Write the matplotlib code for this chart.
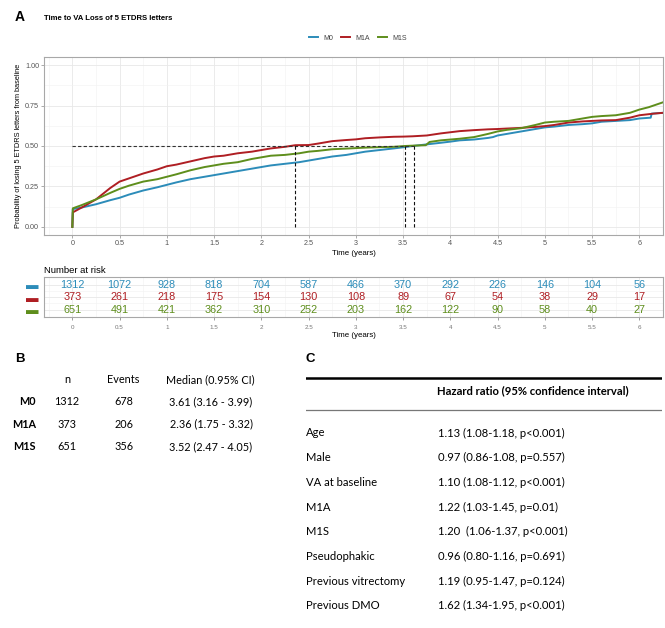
import matplotlib.pyplot as plt
import numpy as np

groups = ['M0', 'M1A', 'M1S']
colors = ['#2C8CB9', '#AF1E23', '#5E8E1C']

t_m0 = [0, 0.005, 0.1, 0.25, 0.4, 0.5, 0.6, 0.75, 0.9, 1.0, 1.1, 1.25, 1.4, 1.5, 1.6, 1.75, 1.9, 2.0,
        2.1, 2.25, 2.4, 2.5, 2.6, 2.75, 2.9, 3.0, 3.1, 3.25, 3.4, 3.5, 3.6, 3.75, 3.9, 4.0, 4.1, 4.25,
        4.4, 4.45, 4.5, 4.6, 4.75, 4.9, 5.0, 5.1, 5.25, 5.4, 5.5, 5.6, 5.75, 5.9, 6.0, 6.12, 6.13, 6.25]
p_m0 = [0, 0.11, 0.12, 0.14, 0.165, 0.18, 0.2, 0.225, 0.245, 0.26, 0.275, 0.295, 0.31, 0.32, 0.33,
        0.345, 0.36, 0.37, 0.38, 0.39, 0.4, 0.41, 0.42, 0.435, 0.445, 0.455, 0.465, 0.475, 0.485,
        0.492, 0.5, 0.51, 0.52, 0.527, 0.535, 0.54, 0.55, 0.555, 0.565, 0.575, 0.59, 0.605, 0.615,
        0.62, 0.63, 0.635, 0.64, 0.65, 0.655, 0.66, 0.67, 0.675, 0.7, 0.705]

t_m1a = [0, 0.005, 0.1, 0.25, 0.4, 0.5, 0.6, 0.75, 0.9, 1.0, 1.1, 1.25, 1.4, 1.5, 1.6, 1.75, 1.9, 2.0,
         2.1, 2.25, 2.36, 2.5, 2.6, 2.75, 2.9, 3.0, 3.1, 3.25, 3.4, 3.5, 3.6, 3.75, 3.9, 4.0, 4.1,
         4.25, 4.4, 4.5, 4.6, 4.75, 4.9, 5.0, 5.1, 5.25, 5.4, 5.5, 5.6, 5.75, 5.9, 6.0, 6.15, 6.25]
p_m1a = [0, 0.09, 0.12, 0.17, 0.24, 0.28, 0.3, 0.33, 0.355, 0.375, 0.385, 0.405, 0.425, 0.435,
         0.44, 0.455, 0.465, 0.475, 0.485, 0.495, 0.505, 0.506, 0.515, 0.53, 0.537, 0.541, 0.548,
         0.553, 0.557, 0.558, 0.56, 0.565, 0.578, 0.585, 0.592, 0.598, 0.603, 0.605, 0.608, 0.612,
         0.618, 0.623, 0.63, 0.645, 0.652, 0.655, 0.658, 0.66, 0.675, 0.69, 0.7, 0.705]

t_m1s = [0, 0.005, 0.1, 0.25, 0.4, 0.5, 0.6, 0.75, 0.9, 1.0, 1.1, 1.25, 1.4, 1.5, 1.6, 1.75, 1.9,
         2.0, 2.1, 2.25, 2.4, 2.5, 2.6, 2.75, 2.9, 3.0, 3.1, 3.25, 3.4, 3.52, 3.6, 3.74, 3.78, 3.9,
         4.0, 4.1, 4.25, 4.4, 4.5, 4.6, 4.75, 4.9, 5.0, 5.1, 5.25, 5.4, 5.5, 5.6, 5.75, 5.9, 6.0,
         6.1, 6.2, 6.25]
p_m1s = [0, 0.115, 0.135, 0.17, 0.21, 0.235, 0.255, 0.28, 0.295, 0.31, 0.325, 0.35, 0.37, 0.38,
         0.39, 0.4, 0.42, 0.43, 0.44, 0.445, 0.455, 0.465, 0.47, 0.48, 0.484, 0.487, 0.49, 0.493,
         0.495, 0.5, 0.502, 0.505, 0.525, 0.535, 0.54, 0.545, 0.555, 0.575, 0.59, 0.6, 0.61, 0.63,
         0.645, 0.65, 0.655, 0.67, 0.68, 0.685, 0.69, 0.705, 0.725, 0.74, 0.76, 0.77]

risk_times = [0, 0.5, 1, 1.5, 2, 2.5, 3, 3.5, 4, 4.5, 5, 5.5, 6]
risk_m0 = [1312, 1072, 928, 818, 704, 587, 466, 370, 292, 226, 146, 104, 56]
risk_m1a = [373, 261, 218, 175, 154, 130, 108, 89, 67, 54, 38, 29, 17]
risk_m1s = [651, 491, 421, 362, 310, 252, 203, 162, 122, 90, 58, 40, 27]

n_pat = [1312, 373, 651]
n_events = [678, 206, 356]
medians = [3.61, 2.36, 3.52]
ci_low = [3.16, 1.75, 2.47]
ci_high = [3.99, 3.32, 4.05]

hr_vars = ['Age', 'Male', 'VA at baseline', 'M1A', 'M1S', 'Pseudophakic',
           'Previous vitrectomy', 'Previous DMO']
hr_text = ['1.13 (1.08-1.18, p<0.001)', '0.97 (0.86-1.08, p=0.557)', '1.10 (1.08-1.12, p<0.001)',
           '1.22 (1.03-1.45, p=0.01)', '1.20  (1.06-1.37, p<0.001)', '0.96 (0.80-1.16, p=0.691)',
           '1.19 (0.95-1.47, p=0.124)', '1.62 (1.34-1.95, p<0.001)']

plt.rcParams['font.family'] = ['Liberation Sans', 'DejaVu Sans']
W, H = 665, 628
fig = plt.figure(figsize=(W / 100, H / 100), dpi=100)


def box(x0, y0, x1, y1):
    return [x0 / W, 1 - y1 / H, (x1 - x0) / W, (y1 - y0) / H]


def ggstyle(ax):
    ax.set_xlim(-0.3, 6.25)
    ax.set_xticks(np.arange(0, 6.01, 0.5))
    ax.set_xticks(np.arange(-0.25, 6.3, 0.5), minor=True)
    ax.set_xticklabels(['%g' % v for v in np.arange(0, 6.01, 0.5)])
    ax.grid(which='major', color='#E8E8E8', lw=0.6)
    ax.grid(which='minor', color='#F2F2F2', lw=0.4)
    ax.set_axisbelow(True)
    for s in ax.spines.values():
        s.set_color('#A8A8A8')
        s.set_linewidth(0.8)
    ax.tick_params(which='major', length=2, width=0.5, color='#888888', colors='#555555')
    ax.tick_params(which='minor', length=0)


# panel A
ax = fig.add_axes(box(44, 57, 663, 235))
ggstyle(ax)
ax.set_ylim(-0.05, 1.05)
ax.set_yticks([0, 0.25, 0.5, 0.75, 1.0])
ax.set_yticks([0.125, 0.375, 0.625, 0.875], minor=True)
ax.set_yticklabels(['0.00', '0.25', '0.50', '0.75', '1.00'])
ax.tick_params(labelsize=5.2, pad=1.5)
for t, p, c, g in zip([t_m0, t_m1a, t_m1s], [p_m0, p_m1a, p_m1s], colors, groups):
    ax.plot(t, p, color=c, lw=1.4, label=g)
ax.hlines(0.5, 0, max(medians), colors='#333333', linestyles=(0, (3, 2)), lw=0.8)
ax.vlines(medians, 0, 0.5, colors='#111111', linestyles=(0, (3, 2)), lw=0.8)
ax.set_xlabel('Time (years)', fontsize=5.7, labelpad=2)
ax.set_ylabel('Probability of losing 5 ETDRS letters from baseline', fontsize=5.3, labelpad=2)
fig.legend(loc='center', bbox_to_anchor=(358 / W, 1 - 38 / H), ncol=3, frameon=False,
           fontsize=5, handlelength=1.3, columnspacing=1.2, handletextpad=0.7, labelcolor='#444444')
fig.text(15 / W, 1 - 17 / H, 'A', fontsize=10, fontweight='bold', va='center')
fig.text(44 / W, 1 - 19 / H, 'Time to VA Loss of 5 ETDRS letters', fontsize=5.6,
         fontweight='bold', va='center')

# risk table
axr = fig.add_axes(box(44, 277, 663, 317))
ggstyle(axr)
axr.set_ylim(0.4, 3.6)
axr.set_yticks([3, 2, 1])
axr.set_yticks([1.5, 2.5], minor=True)
axr.set_yticklabels(['\u25ac'] * 3, fontsize=9)
for lab, c in zip(axr.get_yticklabels(), colors):
    lab.set_color(c)
axr.tick_params(axis='y', length=0, pad=4)
axr.tick_params(axis='x', labelsize=4.5, colors='#777777')
for row, vals, c in zip([3, 2, 1], [risk_m0, risk_m1a, risk_m1s], colors):
    for t, v in zip(risk_times, vals):
        axr.text(t, row, str(v), color=c, fontsize=7.8, ha='center', va='center')
axr.set_xlabel('Time (years)', fontsize=5.7, labelpad=2)
axr.set_title('Number at risk', loc='left', fontsize=6.8, pad=3)

# panel B
tf = ['Lato', 'DejaVu Sans']
fs_b = 7.8
fig.text(15 / W, 1 - 359 / H, 'B', fontsize=9.5, fontweight='bold', va='center')
axb = fig.add_axes(box(0, 370, 300, 460))
axb.axis('off')
axb.set_xlim(0, 300)
axb.set_ylim(2.6, -1.4)
axb.text(67, -0.97, 'n', ha='center', va='center', fontsize=fs_b, family=tf)
axb.text(123, -0.97, 'Events', ha='center', va='center', fontsize=fs_b, family=tf)
axb.text(210, -0.97, 'Median (0.95% CI)', ha='center', va='center', fontsize=fs_b, family=tf)
for i, g in enumerate(groups):
    axb.text(36, i, g, ha='right', va='center', fontsize=fs_b, fontweight='bold', family=tf)
    axb.text(67, i, str(n_pat[i]), ha='center', va='center', fontsize=fs_b, family=tf)
    axb.text(124, i, str(n_events[i]), ha='center', va='center', fontsize=fs_b, family=tf)
    axb.text(211, i, '%.2f (%.2f - %.2f)' % (medians[i], ci_low[i], ci_high[i]),
             ha='center', va='center', fontsize=fs_b, family=tf)

# panel C
fs_c = 8.1
fig.text(305 / W, 1 - 359 / H, 'C', fontsize=9.5, fontweight='bold', va='center')
axc = fig.add_axes(box(306, 370, 662, 620))
axc.axis('off')
axc.set_xlim(0, 1)
axc.set_ylim(7.57, -2.55)
axc.axhline(-2.23, color='black', lw=1.8)
axc.axhline(-0.93, color='#777777', lw=0.9)
axc.text(0.368, -1.7, 'Hazard ratio (95% confidence interval)', fontsize=fs_c, fontweight='bold',
         va='center', family=tf)
for i, (v, s) in enumerate(zip(hr_vars, hr_text)):
    axc.text(0.0, i, v, fontsize=fs_c, va='center', family=tf)
    axc.text(0.371, i, s, fontsize=fs_c, va='center', family=tf)

plt.savefig('out.png', dpi=100)
